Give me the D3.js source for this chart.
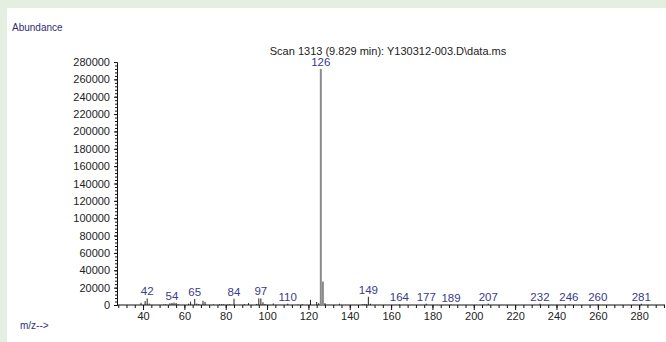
<!DOCTYPE html>
<html><head><meta charset="utf-8">
<script src="https://cdn.jsdelivr.net/npm/d3@7"></script>
<style>
html,body{margin:0;padding:0;background:#e4efe1;}
svg{display:block;}
</style></head><body>
<script>
const title = "Scan 1313 (9.829 min): Y130312-003.D\\data.ms";
const yLabel = "Abundance";
const xLabel = "m/z-->";
const mz = [39,41,42,43,50,51,53,54,55,56,57,62,63,65,66,67,69,70,74,77,78,79,81,82,84,89,91,95,96,97,98,99,103,110,115,117,121,124,125,126,127,128,135,146,147,148,149,150,164,177,189,207,232,246,260,281];
const abundance = [2500,4500,7500,1800,600,900,2000,2500,2800,2300,800,1500,3800,7000,1600,1200,4800,3600,700,800,900,900,600,800,7200,900,2200,1200,7500,7500,3200,1200,1800,1500,600,900,6000,3500,2000,272000,27000,2200,1500,900,1200,1000,9500,1500,600,1500,500,1500,1500,600,600,1500];
const labeled = [42,54,65,84,97,110,126,149,164,177,189,207,232,246,260,281];
const yTicks = [0,20000,40000,60000,80000,100000,120000,140000,160000,180000,200000,220000,240000,260000,280000];
const xTicks = [40,60,80,100,120,140,160,180,200,220,240,260,280];

const W = 666, H = 342;
const svg = d3.select("body").append("svg").attr("width", W).attr("height", H);
svg.append("rect").attr("x",7).attr("y",8).attr("width",W-7).attr("height",H-8).attr("fill","#fff");

const x = d3.scaleLinear().domain([27.4, 292.5]).range([117, 665]);
const y = d3.scaleLinear().domain([0, 280000]).range([305, 62]);

const font = "Liberation Sans, Arial, sans-serif";

// y axis
const gy = svg.append("g").attr("transform","translate(117,0)")
  .call(d3.axisLeft(y).tickValues(yTicks).tickSize(3).tickPadding(4).tickFormat(d3.format("d")));
gy.select(".domain").attr("stroke","#111");
gy.selectAll(".tick line").attr("stroke","#111");
gy.selectAll("text").attr("font-family",font).attr("font-size",11).attr("fill","#222");
const gyMinor = svg.append("g").attr("transform","translate(117,0)")
  .call(d3.axisLeft(y).tickValues(d3.range(0,280001,4000)).tickSize(2).tickFormat(""));
gyMinor.select(".domain").remove();
gyMinor.selectAll(".tick line").attr("stroke","#111");

// x axis
const gx = svg.append("g").attr("transform","translate(0,305)")
  .call(d3.axisBottom(x).tickValues(xTicks).tickSize(5).tickPadding(2).tickFormat(d3.format("d")));
gx.select(".domain").attr("stroke","#111").attr("d","M117,0H665");
gx.selectAll(".tick line").attr("stroke","#111");
gx.selectAll("text").attr("font-family",font).attr("font-size",11).attr("fill","#222");
const gxMinor = svg.append("g").attr("transform","translate(0,305)")
  .call(d3.axisBottom(x).tickValues(d3.range(28,293,4)).tickSize(3).tickFormat(""));
gxMinor.select(".domain").remove();
gxMinor.selectAll(".tick line").attr("stroke","#111");

// peaks
const peaks = mz.map((m,i)=>({m, a: abundance[i]}));
svg.append("g").selectAll("line").data(peaks).join("line")
  .attr("x1", d=>x(d.m)).attr("x2", d=>x(d.m))
  .attr("y1", y(0)).attr("y2", d=>y(d.a))
  .attr("stroke", d=> d.a>20000 ? "#8a8a8a" : "#222")
  .attr("stroke-width", d=> d.a>20000 ? 2 : 1);

// peak labels
svg.append("g").selectAll("text").data(peaks.filter(p=>labeled.includes(p.m))).join("text")
  .attr("x", d=>x(d.m)).attr("y", d=>y(d.a)-3)
  .attr("text-anchor","middle")
  .attr("font-family",font).attr("font-size",11.5).attr("fill","#3a3a8c")
  .text(d=>d.m);

// titles
svg.append("text").attr("x",12).attr("y",31).attr("font-family",font).attr("font-size",10)
  .attr("fill","#2e2e7a").text(yLabel);
svg.append("text").attr("x",20).attr("y",329).attr("font-family",font).attr("font-size",10)
  .attr("fill","#2e2e7a").text(xLabel);
svg.append("text").attr("x",(117+659)/2).attr("y",55).attr("text-anchor","middle")
  .attr("font-family",font).attr("font-size",11).attr("fill","#222").text(title);
</script>
</body></html>
